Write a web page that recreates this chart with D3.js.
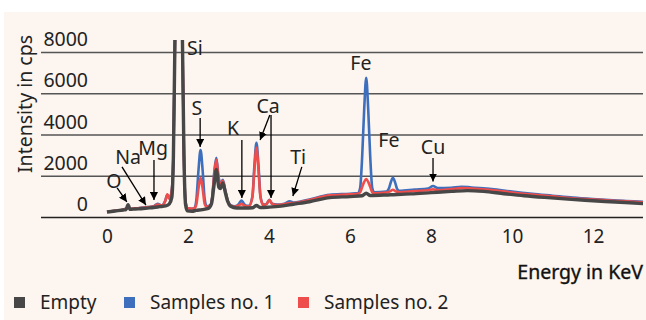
<!DOCTYPE html>
<html>
<head>
<meta charset="utf-8">
<script src="https://cdn.jsdelivr.net/npm/d3@7"></script>
<style>
  html, body { margin: 0; padding: 0; background: #fff; }
  svg text { font-family: "Noto Sans", "Open Sans", sans-serif; fill: #222; }
</style>
</head>
<body>
<div id="chart"></div>
<script>
// spectra, [energy keV, intensity cps]
const empty = [[0,240],[0.2,290],[0.4,340],[0.47,360],[0.52,600],[0.57,370],[0.7,390],[0.85,400],[1.0,430],[1.15,460],[1.3,500],[1.45,540],[1.54,640],[1.6,950],[1.64,3000],[1.68,9000],[1.72,14000],[1.77,16000],[1.82,14000],[1.86,9000],[1.9,3000],[1.94,600],[1.98,300],[2.1,280],[2.2,320],[2.35,360],[2.5,420],[2.58,650],[2.64,1500],[2.7,2300],[2.76,1450],[2.8,1380],[2.86,1650],[2.92,1200],[2.98,750],[3.05,520],[3.2,440],[3.4,440],[3.6,450],[3.69,560],[3.78,460],[4.0,480],[4.3,530],[4.6,620],[5.0,740],[5.5,940],[6.0,990],[6.3,1030],[6.4,1150],[6.5,1040],[7.0,1080],[7.5,1120],[8.0,1180],[8.5,1240],[8.9,1280],[9.3,1240],[9.8,1130],[10.3,1030],[10.8,950],[11.3,880],[11.8,810],[12.3,750],[12.8,700],[13.3,640]];

const sample1 = [[0,250],[0.2,300],[0.4,350],[0.52,450],[0.6,400],[0.8,440],[1.0,480],[1.15,520],[1.25,640],[1.35,560],[1.44,800],[1.49,1080],[1.54,900],[1.6,1300],[1.64,3000],[1.68,9000],[1.72,14000],[1.77,16000],[1.82,14000],[1.86,9000],[1.9,3000],[1.94,700],[2.0,420],[2.1,400],[2.16,440],[2.21,900],[2.26,2300],[2.31,3250],[2.36,2300],[2.41,900],[2.46,520],[2.55,560],[2.6,1000],[2.65,2200],[2.7,2870],[2.75,2000],[2.8,1600],[2.86,1800],[2.92,1300],[2.98,800],[3.05,580],[3.15,520],[3.22,560],[3.27,680],[3.32,800],[3.37,680],[3.42,560],[3.5,540],[3.59,1000],[3.64,2500],[3.69,3600],[3.74,2500],[3.79,1000],[3.86,600],[3.94,640],[4.01,830],[4.08,640],[4.2,600],[4.4,660],[4.51,760],[4.62,700],[4.8,760],[5.0,850],[5.5,1080],[6.0,1130],[6.2,1160],[6.25,1400],[6.3,2900],[6.35,5200],[6.4,6750],[6.45,5200],[6.5,2900],[6.55,1400],[6.6,1200],[6.9,1240],[6.96,1380],[7.01,1700],[7.06,1900],[7.11,1700],[7.16,1380],[7.22,1270],[7.6,1330],[7.93,1380],[8.05,1500],[8.17,1400],[8.5,1420],[8.75,1470],[9.0,1430],[9.5,1360],[10.0,1230],[10.5,1120],[11.0,1030],[11.5,940],[12.0,870],[12.5,810],[13.0,760],[13.3,730]];

const sample2 = [[0,250],[0.2,300],[0.4,350],[0.52,440],[0.6,400],[0.8,440],[1.0,470],[1.15,510],[1.25,600],[1.35,560],[1.44,780],[1.49,1100],[1.54,880],[1.6,1300],[1.64,3000],[1.68,9000],[1.72,14000],[1.77,16000],[1.82,14000],[1.86,9000],[1.9,3000],[1.94,700],[2.0,420],[2.1,400],[2.16,430],[2.21,650],[2.26,1400],[2.31,1900],[2.36,1400],[2.41,650],[2.46,500],[2.55,550],[2.6,950],[2.65,2100],[2.7,2770],[2.75,1950],[2.8,1550],[2.86,1750],[2.92,1250],[2.98,780],[3.05,560],[3.15,500],[3.22,530],[3.27,580],[3.32,640],[3.37,580],[3.42,530],[3.5,520],[3.59,950],[3.64,2300],[3.69,3350],[3.74,2300],[3.79,950],[3.86,580],[3.94,630],[4.01,820],[4.08,630],[4.2,580],[4.4,630],[4.51,680],[4.62,680],[4.8,740],[5.0,820],[5.5,1050],[6.0,1100],[6.2,1130],[6.25,1200],[6.3,1450],[6.35,1700],[6.4,1840],[6.45,1700],[6.5,1450],[6.55,1200],[6.6,1150],[6.9,1190],[6.96,1220],[7.01,1270],[7.06,1320],[7.11,1270],[7.16,1220],[7.22,1200],[7.6,1260],[7.93,1300],[8.05,1340],[8.17,1300],[8.5,1350],[8.75,1400],[9.0,1380],[9.5,1310],[10.0,1190],[10.5,1090],[11.0,1000],[11.5,910],[12.0,850],[12.5,790],[13.0,740],[13.3,700]];

const xTicks = [0, 2, 4, 6, 8, 10, 12];
const yTicks = [0, 2000, 4000, 6000, 8000];

// element labels: text position, optional arrows (from -> to) in keV / cps
const elementLabels = [
  { name: "O",  e: 0.17, v: 1790, arrows: [[0.25, 1410, 0.49, 730]] },
  { name: "Na", e: 0.52, v: 2910, arrows: [[0.37, 2430, 0.96, 580]] },
  { name: "Mg", e: 1.14, v: 3350, arrows: [[1.16, 2760, 1.16, 820]] },
  { name: "Si", e: 2.17, v: 8200, arrows: [] },
  { name: "S",  e: 2.22, v: 5290, arrows: [[2.30, 4800, 2.30, 3400]] },
  { name: "K",  e: 3.11, v: 4320, arrows: [[3.33, 3730, 3.33, 920]] },
  { name: "Ca", e: 3.98, v: 5430, arrows: [[4.02, 4950, 3.78, 3730], [4.05, 4950, 4.05, 920]] },
  { name: "Ti", e: 4.72, v: 2910, arrows: [[4.81, 2430, 4.59, 1020]] },
  { name: "Fe", e: 6.27, v: 7470, arrows: [] },
  { name: "Fe", e: 6.96, v: 3780, arrows: [] },
  { name: "Cu", e: 8.05, v: 3400, arrows: [[8.05, 2860, 8.05, 1720]] }
];

const series = [
  { name: "Empty", color: "#474747", data: empty, width: 3.4 },
  { name: "Samples no. 1", color: "#3e6fbd", data: sample1, width: 2.6 },
  { name: "Samples no. 2", color: "#ee4d4b", data: sample2, width: 2.6 }
];

const width = 646, height = 320;
const plotLeft = 41, plotRight = 643, plotTop = 40, plotBottom = 217;

const svg = d3.select("#chart").append("svg")
  .attr("width", width)
  .attr("height", height);

svg.append("rect")
  .attr("x", 4).attr("y", 12)
  .attr("width", width - 4).attr("height", height - 12)
  .attr("fill", "#fdf5ef");

const x = d3.scaleLinear().domain([0, 12]).range([107, 593]);
const y = d3.scaleLinear().domain([0, 8000]).range([plotBottom, 52]);

// gridlines + y labels (labels sit a bit above their lines, like the original)
const yAxis = svg.append("g")
  .attr("transform", `translate(${plotLeft},0)`)
  .call(d3.axisLeft(y).tickValues(yTicks).tickSize(-(plotRight - plotLeft)).tickFormat(d3.format("d")));
yAxis.select(".domain").remove();
yAxis.selectAll(".tick line")
  .attr("stroke", (d) => d === 0 ? "#222" : "#555")
  .attr("stroke-width", (d) => d === 0 ? 1.6 : 1.3);
yAxis.selectAll(".tick text")
  .attr("x", 47)
  .attr("y", -13)
  .attr("dy", "0.34em")
  .style("font-size", "19.5px")
  .attr("fill", "#222");

const xAxis = svg.append("g")
  .attr("transform", `translate(0,${plotBottom})`)
  .call(d3.axisBottom(x).tickValues(xTicks).tickSize(0).tickPadding(13));
xAxis.select(".domain").remove();
xAxis.selectAll(".tick text")
  .style("font-size", "19px")
  .attr("fill", "#222");

svg.append("defs").append("clipPath").attr("id", "plot-clip")
  .append("rect")
  .attr("x", plotLeft).attr("y", plotTop)
  .attr("width", plotRight - plotLeft).attr("height", plotBottom - plotTop);

const line = d3.line()
  .x((d) => x(d[0]))
  .y((d) => y(d[1]))
  .curve(d3.curveMonotoneX);

const lines = svg.append("g").attr("clip-path", "url(#plot-clip)");
// samples first, the empty spectrum drawn on top
[series[1], series[2], series[0]].forEach((s) => {
  lines.append("path")
    .datum(s.data)
    .attr("fill", "none")
    .attr("stroke", s.color)
    .attr("stroke-width", s.width)
    .attr("stroke-linejoin", "round")
    .attr("d", line);
});

svg.select("defs").append("marker")
  .attr("id", "arrowhead")
  .attr("viewBox", "0 0 10 10")
  .attr("refX", 10).attr("refY", 5)
  .attr("markerWidth", 8).attr("markerHeight", 8)
  .attr("markerUnits", "userSpaceOnUse")
  .attr("orient", "auto")
  .append("path")
  .attr("d", "M0,0L10,5L0,10Z")
  .attr("fill", "#000");

const notes = svg.append("g");
elementLabels.forEach((l) => {
  notes.append("text")
    .attr("x", x(l.e))
    .attr("y", y(l.v))
    .attr("text-anchor", "middle")
    .attr("dominant-baseline", "central")
    .style("font-size", "19.5px")
    .text(l.name);
  l.arrows.forEach((a) => {
    notes.append("line")
      .attr("x1", x(a[0])).attr("y1", y(a[1]))
      .attr("x2", x(a[2])).attr("y2", y(a[3]))
      .attr("stroke", "#000")
      .attr("stroke-width", 1.3)
      .attr("marker-end", "url(#arrowhead)");
  });
});

// axis titles
svg.append("text")
  .attr("transform", `translate(32,104) rotate(-90)`)
  .attr("text-anchor", "middle")
  .style("font-size", "19.5px")
  .text("Intensity in cps");

svg.append("text")
  .attr("x", plotRight)
  .attr("y", 271)
  .attr("text-anchor", "end")
  .attr("dominant-baseline", "central")
  .style("font-size", "19.5px")
  .style("fill", "#111")
  .style("stroke", "#111")
  .style("stroke-width", "0.35px")
  .text("Energy in KeV");

// legend
const legendX = [14, 124, 298];
const legend = svg.append("g");
series.forEach((s, i) => {
  legend.append("rect")
    .attr("x", legendX[i]).attr("y", 297)
    .attr("width", 11).attr("height", 11)
    .attr("fill", s.color);
  legend.append("text")
    .attr("x", legendX[i] + 26)
    .attr("y", 302)
    .attr("dominant-baseline", "central")
    .style("font-size", "19px")
    .text(s.name);
});
</script>
</body>
</html>
